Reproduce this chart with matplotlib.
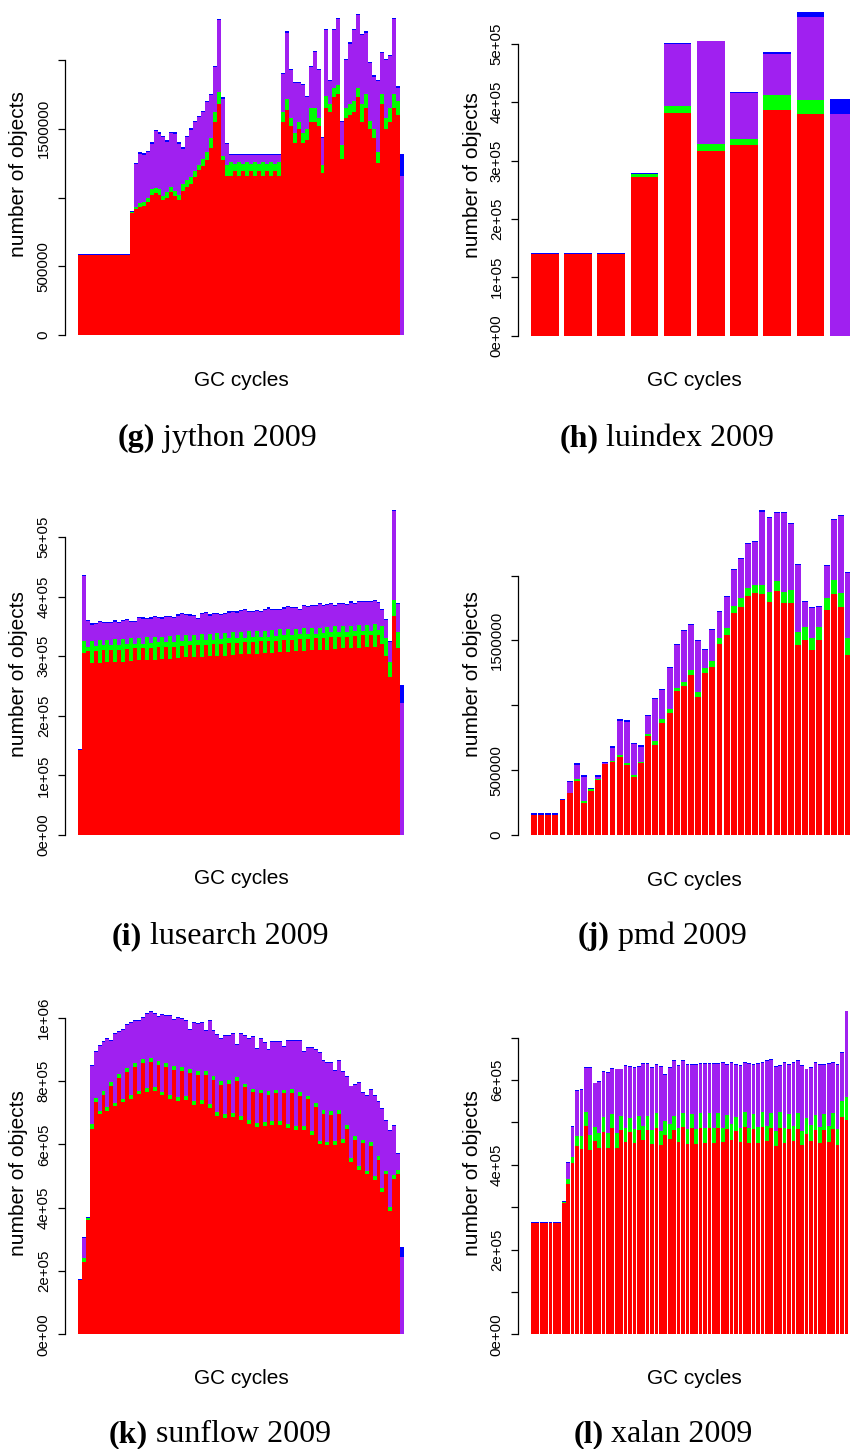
import numpy as np
import matplotlib
matplotlib.use('Agg')
import matplotlib.pyplot as plt

plt.rcParams['font.family'] = ['Liberation Sans', 'DejaVu Sans']

W, H = 850, 1449
COLORS = ['#ff0000', '#00ff00', '#a020f0', '#0000ff']

# all counts in thousands of objects, stacked red / green / purple / blue

# (g) jython
jython_red = [579, 579, 579, 579, 579, 579, 579, 579, 579, 579,
              579, 579, 579, 884, 913, 930, 940, 970, 1020, 1030,
              1020, 980, 1000, 1040, 1010, 980, 1050, 1080, 1100, 1150,
              1200, 1230, 1270, 1360, 1550, 1680, 1270, 1160, 1160, 1190,
              1160, 1190, 1160, 1190, 1160, 1190, 1160, 1190, 1160, 1190,
              1160, 1550, 1640, 1520, 1400, 1500, 1400, 1420, 1550, 1550,
              1520, 1180, 1650, 1620, 1730, 1750, 1280, 1580, 1600, 1620,
              1730, 1550, 1650, 1500, 1430, 1250, 1680, 1500, 1550, 1650,
              1600, 0]
jython_green = [0, 0, 0, 0, 0, 0, 0, 0, 0, 0,
                0, 0, 0, 8, 19, 30, 30, 30, 40, 40,
                40, 30, 40, 40, 40, 40, 50, 50, 50, 40,
                40, 50, 60, 70, 70, 90, 30, 80, 95, 55,
                95, 55, 95, 55, 95, 55, 95, 55, 95, 55,
                95, 70, 80, 60, 70, 50, 70, 80, 100, 100,
                60, 60, 90, 60, 70, 70, 100, 70, 80, 80,
                70, 130, 100, 60, 70, 80, 70, 80, 100, 100,
                100, 0]
jython_purple = [0, 0, 0, 0, 0, 0, 0, 0, 0, 0,
                 0, 0, 0, 0, 310, 360, 342, 332, 332, 414,
                 405, 431, 367, 390, 415, 372, 256, 311, 344, 360,
                 346, 342, 365, 313, 330, 520, 420, 150, 52, 62,
                 52, 62, 52, 62, 52, 62, 52, 62, 52, 62,
                 52, 280, 480, 350, 365, 285, 350, 230, 300, 410,
                 350, 190, 480, 170, 420, 480, 170, 350, 440, 520,
                 530, 500, 450, 420, 380, 520, 300, 420, 380, 550,
                 100, 1160]
jython_blue = [8, 8, 8, 8, 8, 8, 8, 8, 8, 8,
               8, 8, 8, 8, 8, 8, 8, 8, 8, 8,
               8, 8, 8, 8, 8, 8, 8, 8, 8, 8,
               8, 8, 8, 8, 8, 8, 8, 8, 8, 8,
               8, 8, 8, 8, 8, 8, 8, 8, 8, 8,
               8, 8, 8, 8, 8, 8, 8, 8, 8, 8,
               8, 8, 8, 8, 8, 8, 8, 8, 8, 8,
               8, 8, 8, 8, 8, 8, 8, 8, 8, 8,
               8, 155]

# (h) luindex
luindex_red = [140, 140, 140, 271, 382, 317, 326, 387, 380, 0]
luindex_green = [0, 0, 0, 6, 11, 12, 10, 26, 23, 0]
luindex_purple = [0, 0, 0, 0, 106, 175, 79, 70, 142, 379]
luindex_blue = [2, 2, 2, 2, 2, 1, 2, 2, 10, 26]

# (i) lusearch
lusearch_red = [143, 305, 308, 288, 309, 289, 310, 290, 310, 291,
                311, 291, 312, 292, 313, 293, 313, 294, 314, 294,
                315, 295, 316, 296, 316, 297, 317, 298, 318, 298,
                319, 299, 319, 300, 320, 301, 321, 301, 322, 302,
                322, 303, 323, 304, 324, 304, 325, 305, 325, 306,
                326, 307, 327, 307, 328, 308, 329, 309, 329, 310,
                330, 310, 331, 311, 332, 312, 332, 313, 333, 313,
                334, 314, 335, 315, 335, 316, 336, 320, 300, 265,
                367, 313, 0]
lusearch_green = [0, 20, 8, 38, 8, 38, 8, 38, 8, 38,
                  8, 38, 8, 38, 8, 38, 8, 38, 8, 38,
                  8, 38, 8, 38, 8, 38, 8, 38, 8, 38,
                  8, 38, 8, 38, 8, 38, 8, 38, 8, 38,
                  8, 38, 8, 38, 8, 38, 8, 38, 8, 38,
                  8, 38, 8, 38, 8, 38, 8, 38, 8, 38,
                  8, 38, 8, 38, 8, 38, 8, 38, 8, 38,
                  8, 38, 8, 38, 8, 38, 8, 30, 30, 25,
                  27, 28, 0]
lusearch_purple = [0, 109, 43, 27, 37, 30, 38, 27, 38, 29,
                   37, 30, 40, 27, 36, 33, 42, 30, 41, 33,
                   41, 30, 41, 31, 40, 33, 46, 33, 42, 31,
                   35, 33, 45, 30, 42, 32, 40, 32, 43, 34,
                   43, 35, 46, 32, 42, 34, 41, 34, 47, 34,
                   44, 32, 45, 37, 45, 35, 41, 37, 45, 36,
                   46, 39, 45, 37, 47, 34, 47, 37, 45, 39,
                   45, 39, 48, 38, 48, 38, 45, 28, 30, 33,
                   149, 46, 221]
lusearch_blue = [2, 2, 2, 2, 2, 2, 2, 2, 2, 2,
                 2, 2, 2, 2, 2, 2, 2, 2, 2, 2,
                 2, 2, 2, 2, 2, 2, 2, 2, 2, 2,
                 2, 2, 2, 2, 2, 2, 2, 2, 2, 2,
                 2, 2, 2, 2, 2, 2, 2, 2, 2, 2,
                 2, 2, 2, 2, 2, 2, 2, 2, 2, 2,
                 2, 2, 2, 2, 2, 2, 2, 2, 2, 2,
                 2, 2, 2, 2, 2, 2, 2, 2, 2, 2,
                 2, 2, 31]

# (j) pmd
pmd_red = [155, 155, 155, 155, 270, 321, 419, 244, 339, 424,
           544, 562, 598, 539, 444, 552, 763, 693, 860, 942,
           1109, 1150, 1233, 1066, 1251, 1297, 1471, 1541, 1710, 1757,
           1841, 1862, 1857, 1795, 1880, 1785, 1785, 1464, 1502, 1425,
           1502, 1736, 1857, 1757, 1387]
pmd_green = [0, 0, 0, 0, 0, 0, 10, 15, 15, 10,
             0, 11, 16, 13, 16, 13, 18, 34, 31, 31,
             24, 31, 38, 38, 36, 44, 47, 56, 54, 69,
             67, 69, 69, 77, 77, 90, 102, 100, 100, 93,
             100, 95, 108, 107, 133]
pmd_purple = [0, 0, 0, 0, 0, 87, 113, 190, 0, 15,
              11, 100, 267, 321, 241, 116, 136, 323, 226, 314,
              331, 391, 349, 391, 138, 241, 200, 239, 278, 303,
              336, 326, 568, 570, 524, 606, 509, 514, 193, 231,
              155, 242, 462, 594, 501]
pmd_blue = [12, 12, 12, 12, 10, 10, 10, 10, 10, 10,
            10, 10, 10, 10, 10, 10, 10, 10, 10, 10,
            10, 10, 10, 10, 10, 10, 10, 10, 10, 10,
            10, 10, 10, 10, 10, 10, 10, 10, 10, 10,
            10, 10, 10, 10, 10]

# (k) sunflow
sunflow_red = [172, 230, 360, 650, 735, 695, 757, 707, 786, 720,
               810, 733, 828, 745, 846, 758, 858, 765, 860, 770,
               852, 755, 845, 745, 835, 738, 833, 740, 826, 726,
               819, 729, 819, 715, 803, 689, 787, 683, 790, 686,
               800, 677, 780, 664, 764, 656, 761, 658, 757, 661,
               761, 661, 761, 652, 762, 645, 753, 645, 742, 630,
               719, 600, 697, 597, 693, 598, 697, 605, 650, 545,
               614, 520, 603, 505, 595, 487, 550, 450, 505, 390,
               490, 508, 0]
sunflow_green = [0, 10, 8, 15, 12, 12, 12, 12, 12, 12,
                 12, 12, 12, 12, 12, 12, 12, 12, 12, 12,
                 12, 12, 12, 12, 12, 12, 12, 12, 12, 12,
                 12, 12, 12, 12, 12, 12, 12, 12, 12, 12,
                 12, 12, 12, 12, 12, 12, 12, 12, 12, 12,
                 12, 12, 12, 12, 12, 12, 12, 12, 12, 12,
                 12, 12, 12, 12, 12, 12, 12, 12, 12, 12,
                 12, 12, 12, 12, 12, 12, 12, 12, 12, 12,
                 12, 12, 0]
sunflow_purple = [0, 63, 0, 183, 144, 203, 154, 214, 130, 217,
                  134, 218, 138, 228, 131, 221, 128, 236, 145, 231,
                  139, 243, 149, 249, 146, 250, 151, 239, 125, 245,
                  150, 242, 127, 264, 144, 245, 134, 248, 141, 251,
                  102, 260, 151, 257, 162, 235, 160, 250, 129, 250,
                  150, 250, 135, 262, 154, 271, 163, 236, 152, 264,
                  167, 276, 154, 249, 151, 223, 155, 211, 151, 226,
                  162, 263, 148, 236, 165, 254, 171, 251, 156, 241,
                  156, 50, 245]
sunflow_blue = [3, 3, 3, 3, 3, 3, 3, 3, 3, 3,
                3, 3, 3, 3, 3, 3, 3, 3, 3, 3,
                3, 3, 3, 3, 3, 3, 3, 3, 3, 3,
                3, 3, 3, 3, 3, 3, 3, 3, 3, 3,
                3, 3, 3, 3, 3, 3, 3, 3, 3, 3,
                3, 3, 3, 3, 3, 3, 3, 3, 3, 3,
                3, 3, 3, 3, 3, 3, 3, 3, 3, 3,
                3, 3, 3, 3, 3, 3, 3, 3, 3, 3,
                3, 3, 32]

# (l) xalan
xalan_red = [262, 262, 262, 262, 262, 262, 262, 309, 355, 404,
             444, 437, 491, 434, 456, 439, 477, 439, 486, 439,
             482, 453, 477, 451, 482, 458, 482, 449, 486, 446,
             470, 460, 482, 453, 489, 449, 486, 449, 486, 451,
             486, 451, 486, 453, 484, 458, 479, 453, 489, 451,
             484, 451, 489, 456, 486, 444, 486, 451, 484, 456,
             484, 446, 472, 456, 482, 451, 482, 453, 484, 446,
             512, 505]
xalan_green = [0, 0, 0, 0, 0, 0, 0, 3, 11, 14,
               24, 30, 33, 36, 33, 36, 35, 36, 33, 36,
               33, 33, 33, 33, 33, 33, 33, 33, 36, 33,
               33, 36, 33, 33, 33, 35, 33, 35, 36, 35,
               36, 35, 36, 33, 33, 38, 33, 33, 35, 35,
               35, 38, 35, 35, 36, 35, 38, 35, 35, 35,
               38, 35, 38, 37, 35, 38, 37, 38, 38, 38,
               38, 54]
xalan_purple = [0, 0, 0, 0, 0, 0, 0, 0, 39, 72,
                106, 110, 104, 158, 103, 121, 108, 142, 108, 150,
                110, 148, 122, 145, 117, 148, 124, 147, 114, 153,
                110, 133, 131, 148, 124, 152, 117, 152, 117, 153,
                117, 153, 117, 155, 119, 145, 124, 148, 117, 153,
                117, 150, 117, 155, 126, 152, 110, 155, 117, 150,
                124, 153, 115, 136, 124, 147, 117, 148, 119, 152,
                115, 203]
xalan_blue = [3, 3, 3, 3, 3, 3, 3, 2, 2, 2,
              2, 2, 2, 2, 2, 2, 2, 2, 2, 2,
              2, 2, 2, 2, 2, 2, 2, 2, 2, 2,
              2, 2, 2, 2, 2, 2, 2, 2, 2, 2,
              2, 2, 2, 2, 2, 2, 2, 2, 2, 2,
              2, 2, 2, 2, 2, 2, 2, 2, 2, 2,
              2, 2, 2, 2, 2, 2, 2, 2, 2, 2,
              2, 2]


def panel(fig, parts, left, zero, per100k, ticks, labels, ppx=None):
    # ppx given -> R barplot spacing (width 1, space 0.2), else touching bars
    n = len(parts[0])
    if ppx:
        x = 0.2 + 1.2 * np.arange(n)
        right = 900
        xlim = (0.2, 0.2 + (right - left) / ppx)
    else:
        x = np.arange(n)
        right = 404
        xlim = (0, n)
    top = zero - 345
    ax = fig.add_axes([left / W, 1 - zero / H, (right - left) / W, (zero - top) / H])
    ax.patch.set_visible(False)
    bottom = np.zeros(n)
    for vals, col in zip(parts, COLORS):
        vals = np.asarray(vals, float) * 1000
        ax.bar(x, vals, width=1, bottom=bottom, align='edge', color=col,
               linewidth=0, antialiased=False)
        bottom += vals
    ax.set_xlim(*xlim)
    ax.set_ylim(0, (zero - top) / per100k * 1e5)
    for s in ('top', 'right', 'bottom'):
        ax.spines[s].set_visible(False)
    ax.spines['left'].set_position(('outward', 13 * 0.72))
    ax.spines['left'].set_bounds(ticks[0], ticks[-1])
    ax.spines['left'].set_linewidth(0.9)
    ax.set_xticks([])
    ax.set_yticks(ticks)
    ax.set_yticklabels(labels, rotation=90, va='center')
    ax.tick_params(axis='y', direction='out', length=4.7, width=0.9,
                   pad=5.5, labelsize=10.8)
    return ax


fig = plt.figure(figsize=(W / 100, H / 100), dpi=100)

big = [0, 500000, 1000000, 1500000, 2000000]
big_lab = ['0', '500000', '', '1500000', '']
e5 = [0, 100000, 200000, 300000, 400000, 500000]
e5_lab = ['0e+00', '1e+05', '2e+05', '3e+05', '4e+05', '5e+05']

panel(fig, [jython_red, jython_green, jython_purple, jython_blue],
      78, 335, 13.75, big, big_lab)
panel(fig, [luindex_red, luindex_green, luindex_purple, luindex_blue],
      531, 335.7, 58.4, e5, e5_lab, ppx=27.67)
panel(fig, [lusearch_red, lusearch_green, lusearch_purple, lusearch_blue],
      78, 835, 59.6, e5, e5_lab)
panel(fig, [pmd_red, pmd_green, pmd_purple, pmd_blue],
      531, 835, 12.97, big, big_lab, ppx=5.947)
panel(fig, [sunflow_red, sunflow_green, sunflow_purple, sunflow_blue],
      78, 1334.3, 31.65,
      [0, 200000, 400000, 600000, 800000, 1000000],
      ['0e+00', '2e+05', '4e+05', '6e+05', '8e+05', '1e+06'])
panel(fig, [xalan_red, xalan_green, xalan_purple, xalan_blue],
      531, 1334.3, 42.37,
      [0, 100000, 200000, 300000, 400000, 500000, 600000, 700000],
      ['0e+00', '', '2e+05', '', '4e+05', '', '6e+05', ''], ppx=3.68)

# axis titles
for cx, cy in [(19, 174), (472, 175), (19, 674), (472, 674), (19, 1173), (472, 1173)]:
    fig.text(cx / W, 1 - cy / H, 'number of objects', rotation=90,
             ha='center', va='center', fontsize=15)
for cx, cy in [(241, 380), (694, 380), (241, 879), (694, 880), (241, 1378), (694, 1378)]:
    fig.text(cx / W, 1 - cy / H, 'GC cycles', ha='center', va='center', fontsize=15)

# sub-captions: bold tag + plain name, centred as one line
captions = [('(g)', 'jython 2009', 217, 446), ('(h)', 'luindex 2009', 667, 446),
            ('(i)', 'lusearch 2009', 220, 944), ('(j)', 'pmd 2009', 662, 944),
            ('(k)', 'sunflow 2009', 220, 1442), ('(l)', 'xalan 2009', 663, 1442)]
fig.canvas.draw()
rend = fig.canvas.get_renderer()
for tag, name, cx, by in captions:
    t1 = fig.text(0, 1 - by / H, tag, fontweight='bold', fontsize=23,
                  family='Liberation Serif', va='baseline')
    t2 = fig.text(0, 1 - by / H, ' ' + name, fontsize=23,
                  family='Liberation Serif', va='baseline')
    w1 = t1.get_window_extent(rend).width
    w2 = t2.get_window_extent(rend).width
    x0 = cx - (w1 + w2) / 2
    t1.set_x(x0 / W)
    t2.set_x((x0 + w1) / W)

fig.savefig('out.png', dpi=100)
